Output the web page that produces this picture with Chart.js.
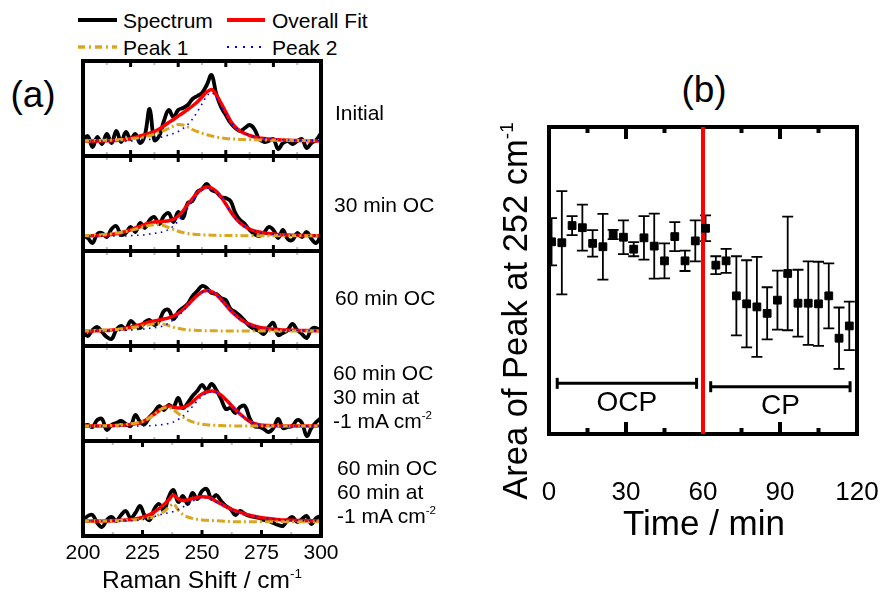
<!DOCTYPE html>
<html>
<head>
<meta charset="utf-8">
<script src="https://cdn.jsdelivr.net/npm/chart.js@4.4.0/dist/chart.umd.min.js"></script>
<style>
  html, body { margin: 0; padding: 0; background: #fff; }
  body { width: 881px; height: 592px; position: relative; overflow: hidden;
         font-family: "Liberation Sans", Arial, Helvetica, sans-serif; color: #000; }
  canvas { position: absolute; }
  .txt { position: absolute; white-space: nowrap; }
  .cond { font-size: 21px; line-height: 24px; }
  sup { font-size: 55%; vertical-align: 0.75em; line-height: 0; }
</style>
</head>
<body>

<!-- legend of panel (a) -->
<svg class="txt" style="left:0; top:0" width="420" height="62">
  <line x1="78" y1="20" x2="117" y2="20" stroke="#000" stroke-width="4"/>
  <text x="123" y="27.5" font-size="21" font-family="Liberation Sans, Arial, sans-serif">Spectrum</text>
  <line x1="227" y1="20" x2="265" y2="20" stroke="#ff0000" stroke-width="4"/>
  <text x="272" y="27.5" font-size="21" font-family="Liberation Sans, Arial, sans-serif">Overall Fit</text>
  <line x1="78" y1="47" x2="117" y2="47" stroke="#daa520" stroke-width="3.5" stroke-dasharray="7 4 2 4"/>
  <text x="123" y="55" font-size="21" font-family="Liberation Sans, Arial, sans-serif">Peak 1</text>
  <line x1="227" y1="47" x2="265" y2="47" stroke="#0000ff" stroke-width="2" stroke-dasharray="2 6"/>
  <text x="272" y="55" font-size="21" font-family="Liberation Sans, Arial, sans-serif">Peak 2</text>
</svg>

<div class="txt" style="left:-7px; top:73px; width:80px; text-align:center; font-size:37px; line-height:44px">(a)</div>
<div class="txt" style="left:664px; top:68px; width:80px; text-align:center; font-size:37px; line-height:44px">(b)</div>

<canvas id="boxInitial" width="288" height="107" style="left:58px; top:55px"></canvas>
<canvas id="boxOc30" width="288" height="107" style="left:58px; top:150px"></canvas>
<canvas id="boxOc60" width="288" height="107" style="left:58px; top:245px"></canvas>
<canvas id="boxCp30" width="288" height="107" style="left:58px; top:340px"></canvas>
<canvas id="boxCp60" width="288" height="141" style="left:58px; top:435px"></canvas>

<div class="txt cond" style="left:335px; top:101px">Initial</div>
<div class="txt cond" style="left:334px; top:193px">30 min OC</div>
<div class="txt cond" style="left:335px; top:286px">60 min OC</div>
<div class="txt cond" style="left:333px; top:361px">60 min OC<br>30 min at<br>-1 mA cm<sup>-2</sup></div>
<div class="txt cond" style="left:337px; top:456px">60 min OC<br>60 min at<br>-1 mA cm<sup>-2</sup></div>

<div class="txt" style="left:52px; top:565px; width:300px; text-align:center; font-size:24.5px; line-height:30px">Raman Shift / cm<sup>-1</sup></div>

<canvas id="areaChart" width="368" height="407" style="left:519px; top:107px"></canvas>

<div class="txt" style="left:265px; top:290px; width:500px; height:42px; text-align:center; font-size:34.5px; line-height:42px; transform:rotate(-90deg)">Area of Peak at 252 cm<sup>-1</sup></div>
<div class="txt" style="left:554px; top:502px; width:300px; text-align:center; font-size:35px; line-height:42px">Time / min</div>

<script>
// Raman shift axis (cm-1), shared by every spectrum and fit
const ramanShift = [200,202,204,206,208,210,212,214,216,218,220,222,224,226,228,230,232,234,236,238,
                    240,242,244,246,248,250,252,254,256,258,260,262,264,266,268,270,272,274,276,278,
                    280,282,284,286,288,290,292,294,296,298,300];
const ramanTicks = [200, 225, 250, 275, 300];

// Initial
const spectrumInitial = [0,5,-6,4,-3,7,-2,10,-1,9, 2,7,-2,6,32,1,5,20,31,24, 31,33,36,42,45,48,56,66,47,34,
                         26,18,13,10,13,16,12,2,-1,0, 2,-8,-2,0,-3,0,2,-7,-2,1, 8];
const fitInitial = [0,0,0,0,0.1,0.2,0.4,0.6,0.9,1.5, 2.5,3.7,5,6.2,7.8,9.5,12,15,18.5,21.5, 25,28,31.5,35,39,44,49,51.5,46,38,
                    29,20,14,10,7.5,5.5,4,3,2.5,2, 1.5,1.2,1,0.8,0.6,0.5,0.4,0.3,0.2,0.1, 0];
const peak1Initial = [0.3,0.3,0.4,0.5,0.6,0.7,0.9,1.1,1.4,1.8, 2.2,2.7,3.3,4.2,5.3,6.8,8.5,10.5,12.5,14.8, 16.5,16,14,11.5,9.5,7.8,6.2,5,4,3.2,
                      2.6,2.2,1.9,1.6,1.4,1.3,1.2,1.1,1,0.9, 0.8,0.8,0.7,0.7,0.6,0.6,0.5,0.5,0.5,0.4, 0.4];
const peak2Initial = [0,0,0,0,0,0,0,0,0,0, 0,0.2,0.5,1,1.6,2.5,3.5,4.5,6,7.5, 9.5,12.5,16.5,22,29,37,45,48.5,43,35,
                      27,19,14,10.5,8,6,4.5,3.5,2.8,2.2, 1.8,1.5,1.2,1,0.8,0.7,0.6,0.5,0.4,0.3, 0.3];

// 30 min OC
const spectrumOc30 = [0,-2,-7,2,3,-1,7,10,1,3, 9,4,13,8,16,19,12,20,23,14, 24,18,33,35,44,47,52,46,44,39,
                      38,35,23,16,12,6,2,0,3,9, 6,-2,6,-3,-4,3,-1,4,-3,-7, 1];
const fitOc30 = [0,0.1,0.3,0.5,0.7,1,1.5,2.2,3.2,4.6, 6.2,8,9.5,11.7,13,14,14.5,14.7,15.2,16.8, 20,25,31.5,37.5,43,47,49,48,44.5,39,
                 32,24.5,18,13,9.5,7,5.2,4,3,2.4, 1.9,1.5,1.2,1,0.8,0.7,0.6,0.5,0.4,0.3, 0.3];
const peak1Oc30 = [0.5,0.6,0.8,1,1.3,1.7,2.2,2.9,3.6,4.5, 5.5,6.8,8.2,9.5,10.6,11.3,11.3,10.3,8.5,6.5, 4.8,3.5,2.6,1.9,1.5,1.2,1,0.8,0.7,0.6,
                   0.5,0.5,0.4,0.4,0.3,0.3,0.3,0.3,0.3,0.3, 0.3,0.2,0.2,0.2,0.2,0.2,0.2,0.2,0.2,0.2, 0.2];
const peak2Oc30 = [0,0,0,0,0,0,0,0,0,0, 0.4,0.6,0.9,1.2,2,2.6,3.4,4.5,6.5,10, 15,21,28,35,41.5,46,48,47,43.5,38.5,
                   31.5,24,17.5,12.5,9.2,6.7,5,3.8,2.9,2.3, 1.8,1.4,1.1,0.9,0.8,0.7,0.6,0.5,0.4,0.3, 0.3];

// 60 min OC
const spectrumOc60 = [0,-5,1,4,-1,-6,-8,1,5,2, 10,6,3,9,11,6,10,20,21,12, 19,23,27,35,40,45,43,38,37,33,
                      31,22,19,15,10,5,2,0,-3,4, 8,-4,-2,1,7,1,-3,-7,2,3, -1];
const fitOc60 = [0,0,0.1,0.2,0.4,0.6,1,1.4,2,2.8, 3.8,5,6.4,7.7,9,10.1,11,12,13.2,15, 17.5,21.5,26,31,35.5,39,40.5,39.5,36.5,31.5,
                 26,20.5,16,12,9,6.8,5,3.8,2.9,2.2, 1.7,1.4,1.1,0.9,0.7,0.6,0.5,0.4,0.3,0.2, 0.2];
const peak1Oc60 = [0.3,0.4,0.5,0.6,0.7,0.9,1.2,1.5,2,2.5, 3.1,3.8,4.6,5.5,6.4,7.2,7.5,6.8,5.3,3.8, 2.6,1.8,1.2,0.8,0.6,0.4,0.3,0.2,0.2,0.1,
                   0.1,0,0,0,0,0,0,0,0,0, 0,0,0,0,0,0,0,0,0,0, 0];
const peak2Oc60 = [0,0,0,0,0,0,0.2,0.3,0.5,0.7, 1,1.3,1.7,2.2,2.7,3.3,4,5.4,7.9,11.2, 15,19.7,24.8,30.2,34.9,38.6,40.2,39.3,36.3,31.4,
                   25.9,20.4,15.9,11.9,8.9,6.7,5,3.8,2.9,2.2, 1.7,1.4,1.1,0.9,0.7,0.6,0.5,0.4,0.3,0.2, 0.2];

// 60 min OC + 30 min at -1 mA cm-2
const spectrumCp30 = [0,1,-1,6,7,-4,1,3,5,2, 0,11,4,2,9,14,20,16,21,19, 28,18,23,30,35,41,36,42,36,27,
                      17,18,13,19,20,8,0,-1,-3,-6, -2,7,-2,-1,0,6,3,-10,-2,4, 8];
const fitCp30 = [0,0,0,0,0,0.1,0.2,0.4,0.7,1, 1.5,2.2,3.2,5.5,8.5,12,15.5,18.5,20,19, 18,18.5,20.5,24,28.5,32,34,35,34,31,
                 26.5,21.5,16.5,12,8,4.5,2.5,1.2,0.7,0.4, 0.2,0.1,0,0,0,0,0,0,0,0, 0];
const peak1Cp30 = [0,0,0,0,0.1,0.2,0.4,0.7,1,1.4, 2,2.7,3.8,5.5,8.3,12,15.5,18,18.3,16, 12.5,9,6.2,4.2,2.8,1.9,1.3,0.9,0.6,0.4,
                   0.3,0.2,0.1,0,0,0,0,0,0,0, 0,0,0,0,0,0,0,0,0,0, 0];
const peak2Cp30 = [0,0,0,0,0,0,0,0,0,0, 0,0,0,0.1,0.3,0.6,1,1.6,2.5,4, 6.5,10,14.5,19.5,25,29.8,32.8,34.2,33.5,30.6,
                   26.2,21.3,16.4,12,8,4.5,2.5,1.2,0.7,0.4, 0.2,0.1,0,0,0,0,0,0,0,0, 0];

// 60 min OC + 60 min at -1 mA cm-2
const spectrumCp60 = [0,5,6,-2,-6,1,4,0,6,10, 3,8,15,5,1,12,17,10,24,31, 19,25,17,28,22,30,32,22,26,20,
                      15,12,6,10,7,5,4,3,1,0, -2,-4,-5,1,4,-1,2,5,-3,3, 5];
const fitCp60 = [0,0,0,0,0,0,0.2,0.4,0.7,1, 1.4,2,3,4.5,6.5,9,12.5,16.5,21,26, 22,20.5,21,22.5,23.5,24.3,24,22.5,19.5,17,
                 14.5,12.2,10.3,8.7,7,5.8,4.7,3.8,3,2.4, 1.9,1.5,1.1,0.9,0.7,0.5,0.4,0.3,0.2,0.1, 0];
const peak1Cp60 = [0,0,0,0,0,0,0.2,0.3,0.5,0.7, 1,1.3,1.7,2.3,3.2,4.5,6.5,9.5,13.5,17, 11,6.5,4,2.6,1.7,1.1,0.7,0.4,0.2,0,
                   -0.3,-0.6,-0.8,-0.8,-0.8,-0.8,-0.8,-0.8,-0.8,-0.8, -0.8,-0.8,-0.8,-0.8,-0.8,-0.8,-0.8,-0.8,-0.8,-0.8, -0.8];
const peak2Cp60 = [0,0,0,0,0,0,0,0,0,0.2, 0.4,0.7,1.2,2,3.2,4.5,6,7.2,8.3,9.5, 11.5,14,17,19.8,21.8,23.2,23.3,22.1,19.3,16.9,
                   14.5,12.2,10.3,8.7,7,5.8,4.7,3.8,3,2.4, 1.9,1.5,1.1,0.9,0.7,0.5,0.4,0.3,0.2,0.1, 0];

// panel (b): area of the 252 cm-1 peak (arbitrary units)
const timeMin = [1,5,9,13,17,21,25,29,33,37,41,45,49,53,57,61,65,69,73,77,81,85,89,93,97,101,105,109,113,117];
const peakArea = [62.6,62.3,67.9,67.2,62.1,61.0,65.0,64.1,60.2,63.9,61.2,56.4,64.3,56.4,62.9,
                  67.0,55.0,56.4,45.0,42.4,41.4,39.3,43.6,52.3,42.6,42.6,42.4,45.0,31.2,35.2];
const peakAreaErr = [7.7,16.8,3.1,7.5,4.3,10.7,1.5,5.5,2.3,7.1,10.6,5.7,4.7,3.3,6.7,
                     4.2,2.9,3.9,12.9,14.2,16.3,8.5,9.6,18.5,10.9,13.6,13.7,10.6,10.0,7.9];
const timeTicks = [0, 30, 60, 90, 120];
const switchTime = 60;

// OCP / CP periods
const phaseNames = ['OCP', 'CP'];
const phaseStart = [3.2, 63];
const phaseEnd = [57.5, 117.3];
const phaseLevel = [16.5, 15.4];

const FONT = '"Liberation Sans", Arial, Helvetica, sans-serif';
Chart.defaults.font.family = FONT;
Chart.defaults.color = '#000';

/**
 * Draws the box and inward tick marks (top and bottom) of a chart
 */
const frameTicks = {
    id: 'frameTicks',
    beforeDatasetsDraw(chart, args, opts) {
        if (opts.layer === 'back') drawFrame(chart, opts);
    },
    afterDatasetsDraw(chart, args, opts) {
        if (opts.layer !== 'back') drawFrame(chart, opts);
    },
};

function drawFrame(chart, opts) {
    const { ctx, chartArea: a, scales: { x } } = chart;
    ctx.save();
    ctx.lineCap = 'butt';
    const ticks = (values, len, color, width) => {
        ctx.strokeStyle = color;
        ctx.lineWidth = width;
        ctx.beginPath();
        values.forEach(v => {
            const px = x.getPixelForValue(v);
            ctx.moveTo(px, a.top);
            ctx.lineTo(px, a.top + len);
            ctx.moveTo(px, a.bottom);
            ctx.lineTo(px, a.bottom - len);
        });
        ctx.stroke();
    };
    ticks(opts.minor || [], opts.minorLen, opts.minorColor || '#000', opts.minorWidth);
    ticks(opts.major || [], opts.majorLen, '#000', opts.majorWidth);
    ctx.strokeStyle = '#000';
    ctx.lineWidth = opts.width;
    ctx.strokeRect(a.left, a.top, a.right - a.left, a.bottom - a.top);
    ctx.restore();
}

const toPoints = (xs, ys) => ys.map((v, i) => ({ x: xs[i], y: v }));

// bottom axis whose labels sit `gap` px below the frame: an invisible tick mark
// pushes them down (ticks.padding would also widen the side margins)
function labelAxis(min, max, tickValues, fontSize, gap, height, shown) {
    return {
        type: 'linear',
        min: min,
        max: max,
        display: shown,
        afterBuildTicks: s => { s.ticks = tickValues.map(v => ({ value: v })); },
        afterFit: s => { if (shown) s.height = height; },
        grid: { display: true, drawOnChartArea: false, drawTicks: true, tickLength: gap, tickColor: 'rgba(0,0,0,0)' },
        border: { display: false },
        ticks: { font: { size: fontSize }, color: '#000', padding: 0, maxRotation: 0, autoSkip: false },
    };
}

/**
 * One spectrum box of panel (a)
 */
function renderSpectrumBox(canvasId, spectrum, fit, peak1, peak2, isBottom) {
    const ctx = document.getElementById(canvasId).getContext('2d');

    // drawn bottom-up: spectrum, overall fit, peak 1, peak 2 (index 0 on top)
    const datasets = [
        {
            label: 'Peak 2',
            data: toPoints(ramanShift, peak2),
            borderColor: '#0000ff',
            borderWidth: 1.6,
            borderDash: [1.6, 4.4],
            cubicInterpolationMode: 'monotone',
        },
        {
            label: 'Peak 1',
            data: toPoints(ramanShift, peak1),
            borderColor: '#daa520',
            borderWidth: 3,
            borderDash: [8, 3, 2, 3],
            cubicInterpolationMode: 'monotone',
        },
        {
            label: 'Overall Fit',
            data: toPoints(ramanShift, fit),
            borderColor: '#ff0000',
            borderWidth: 3.5,
            cubicInterpolationMode: 'monotone',
        },
        {
            label: 'Spectrum',
            data: toPoints(ramanShift, spectrum),
            borderColor: '#000',
            borderWidth: 3.8,
            tension: 0.4,
        },
    ];

    return new Chart(ctx, {
        type: 'line',
        data: { datasets: datasets },
        options: {
            responsive: false,
            animation: false,
            events: [],
            layout: { padding: { left: 25, right: 25, top: 6, bottom: isBottom ? 0 : 6 } },
            elements: { point: { radius: 0 } },
            plugins: {
                legend: { display: false },
                tooltip: { enabled: false },
                frameTicks: isBottom
                    ? { width: 4, major: [225, 250, 275], majorLen: 6, majorWidth: 3,
                        minor: [212.5, 237.5, 262.5, 287.5], minorLen: 4, minorWidth: 2, minorColor: '#bbb' }
                    : { width: 4, major: [220, 240, 260, 280], majorLen: 6, majorWidth: 3,
                        minor: [210, 230, 250, 270, 290], minorLen: 4, minorWidth: 2, minorColor: '#bbb' },
            },
            scales: {
                x: labelAxis(200, 300, ramanTicks, 21, 5, 40, isBottom),
                y: { min: -15, max: 80, display: false },
            },
        },
        plugins: [frameTicks],
    });
}

/**
 * Error bars (with caps) for the peak area points, and the OCP / CP labels
 */
const errorBars = {
    id: 'errorBars',
    beforeDatasetsDraw(chart) {
        const { ctx, chartArea: a, scales: { x, y } } = chart;
        ctx.save();
        ctx.beginPath();
        ctx.rect(a.left, a.top, a.right - a.left, a.bottom - a.top);
        ctx.clip();
        ctx.strokeStyle = '#000';
        ctx.lineWidth = 1.8;
        ctx.beginPath();
        timeMin.forEach((t, i) => {
            const px = x.getPixelForValue(t);
            const hi = y.getPixelForValue(peakArea[i] + peakAreaErr[i]);
            const lo = y.getPixelForValue(peakArea[i] - peakAreaErr[i]);
            ctx.moveTo(px, hi); ctx.lineTo(px, lo);
            ctx.moveTo(px - 5.5, hi); ctx.lineTo(px + 5.5, hi);
            ctx.moveTo(px - 5.5, lo); ctx.lineTo(px + 5.5, lo);
        });
        ctx.stroke();
        ctx.restore();
    },
    afterDatasetsDraw(chart) {
        const { ctx, scales: { x, y } } = chart;
        ctx.save();
        ctx.fillStyle = '#000';
        ctx.font = '28px ' + FONT;
        ctx.textAlign = 'center';
        ctx.textBaseline = 'middle';
        phaseNames.forEach((name, i) => {
            const px = x.getPixelForValue((phaseStart[i] + phaseEnd[i]) / 2);
            const py = y.getPixelForValue(phaseLevel[i]) + 20;
            ctx.fillText(name, px, py);
        });
        ctx.restore();
    },
};

function renderAreaChart(canvasId) {
    const ctx = document.getElementById(canvasId).getContext('2d');

    const datasets = [
        {
            label: 'Area',
            data: toPoints(timeMin, peakArea),
            pointStyle: 'rect',
            pointRadius: 5.5,
            pointBackgroundColor: '#000',
            pointBorderColor: '#000',
            pointBorderWidth: 1,
            showLine: false,
        },
        {
            label: 'switch',
            data: [{ x: switchTime, y: 0 }, { x: switchTime, y: 100 }],
            borderColor: '#ff0000',
            borderWidth: 4,
            pointRadius: 0,
            showLine: true,
            clip: false,
        },
    ];
    phaseNames.forEach((name, i) => {
        datasets.push({
            label: name,
            data: [{ x: phaseStart[i], y: phaseLevel[i] }, { x: phaseEnd[i], y: phaseLevel[i] }],
            borderColor: '#000',
            borderWidth: 3,
            showLine: true,
            pointStyle: 'line',
            rotation: 90,
            pointRadius: 5.5,
            pointBorderWidth: 3,
            pointBorderColor: '#000',
        });
    });

    return new Chart(ctx, {
        type: 'scatter',
        data: { datasets: datasets },
        options: {
            responsive: false,
            animation: false,
            events: [],
            layout: { padding: { left: 30, right: 30, top: 20, bottom: 0 } },
            plugins: {
                legend: { display: false },
                tooltip: { enabled: false },
                frameTicks: { layer: 'back', width: 4, major: [30, 60, 90], majorLen: 12, majorWidth: 4,
                              minor: [15, 45, 75, 105], minorLen: 6, minorWidth: 4 },
            },
            scales: {
                x: labelAxis(0, 120, timeTicks, 26, 43, 80, true),
                y: { min: 0, max: 100, display: false },
            },
        },
        plugins: [frameTicks, errorBars],
    });
}

renderSpectrumBox('boxInitial', spectrumInitial, fitInitial, peak1Initial, peak2Initial, false);
renderSpectrumBox('boxOc30', spectrumOc30, fitOc30, peak1Oc30, peak2Oc30, false);
renderSpectrumBox('boxOc60', spectrumOc60, fitOc60, peak1Oc60, peak2Oc60, false);
renderSpectrumBox('boxCp30', spectrumCp30, fitCp30, peak1Cp30, peak2Cp30, false);
renderSpectrumBox('boxCp60', spectrumCp60, fitCp60, peak1Cp60, peak2Cp60, true);
renderAreaChart('areaChart');
</script>
</body>
</html>
